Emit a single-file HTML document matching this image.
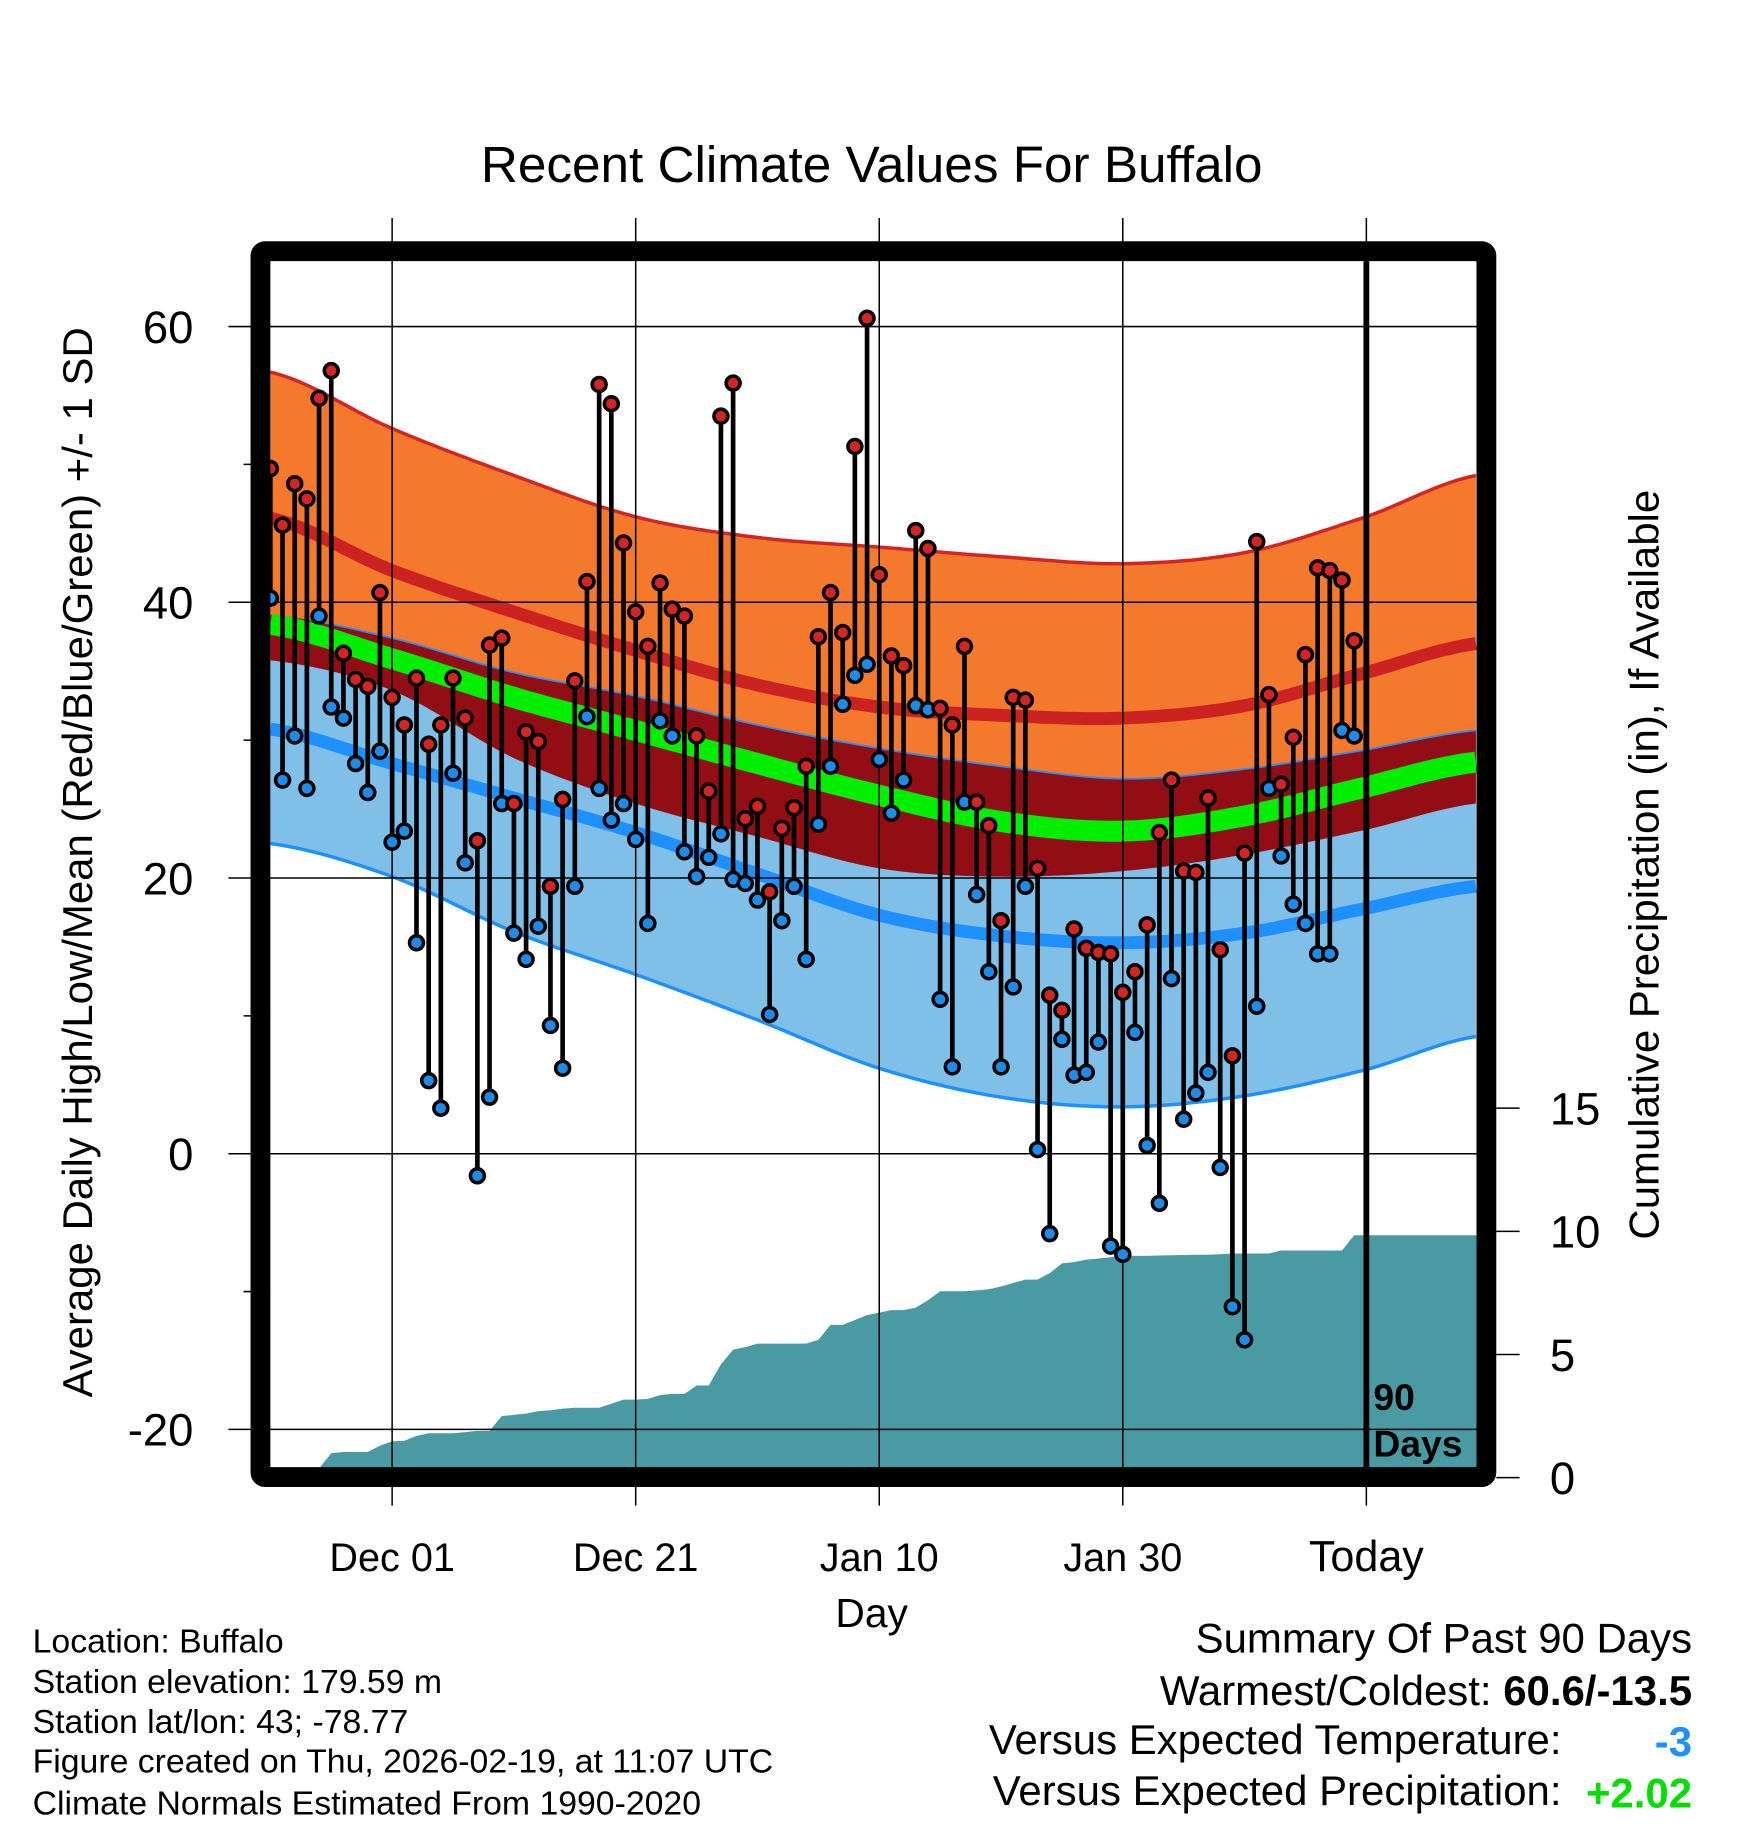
<!DOCTYPE html>
<html><head><meta charset="utf-8">
<style>
html,body{margin:0;padding:0;background:#fff;}
svg{display:block;font-family:"Liberation Sans",Arial,sans-serif;}
</style></head>
<body>
<svg id="chart" width="1748" height="1828" viewBox="0 0 1500 1568.6" xmlns="http://www.w3.org/2000/svg">
  <g id="bands"></g>
  <g id="precip"></g>
  <g id="grid"></g>
  <g id="marks"></g>
  <g id="axes"></g>
  <text x="748" y="156" font-size="44" text-anchor="middle">Recent Climate Values For Buffalo</text>
  <text transform="translate(79,740) rotate(-90)" font-size="36" text-anchor="middle">Average Daily High/Low/Mean (Red/Blue/Green) +/- 1 SD</text>
  <text transform="translate(1423,742) rotate(-90)" font-size="36" text-anchor="middle">Cumulative Precipitation (in), If Available</text>
  <text x="748" y="1396" font-size="35" text-anchor="middle">Day</text>
  <g font-size="29">
    <text x="28" y="1418">Location: Buffalo</text>
    <text x="28" y="1453">Station elevation: 179.59 m</text>
    <text x="28" y="1487">Station lat/lon: 43; -78.77</text>
    <text x="28" y="1521">Figure created on Thu, 2026-02-19, at 11:07 UTC</text>
    <text x="28" y="1557">Climate Normals Estimated From 1990-2020</text>
  </g>
  <g font-size="36">
    <text x="1452" y="1418" text-anchor="end">Summary Of Past 90 Days</text>
    <text x="1452" y="1463" text-anchor="end">Warmest/Coldest: <tspan font-weight="bold">60.6/-13.5</tspan></text>
    <text x="1340" y="1505" text-anchor="end">Versus Expected Temperature:</text>
    <text x="1452" y="1507" text-anchor="end" font-weight="bold" fill="#1e90ff">-3</text>
    <text x="1340" y="1549" text-anchor="end">Versus Expected Precipitation:</text>
    <text x="1452" y="1551" text-anchor="end" font-weight="bold" fill="#00dd00">+2.02</text>
  </g>
</svg>
<script>
const highs=[49.7,45.6,48.6,47.5,54.8,56.8,36.3,34.4,33.9,40.7,33.1,31.1,34.5,29.7,31.1,34.5,31.6,22.7,36.9,37.4,25.4,30.6,29.9,19.4,25.7,34.3,41.5,55.8,54.4,44.3,39.3,36.8,41.4,39.5,39.0,30.3,26.3,53.5,55.9,24.3,25.2,19.0,23.6,25.1,28.1,37.5,40.7,37.8,51.3,60.6,42.0,36.1,35.4,45.2,43.9,32.3,31.1,36.8,25.5,23.8,16.9,33.1,32.9,20.7,11.5,10.4,16.3,14.9,14.6,14.5,11.7,13.2,16.6,23.3,27.1,20.5,20.4,25.8,14.8,7.1,21.8,44.4,33.3,26.8,30.2,36.2,42.5,42.3,41.6,37.2];
const lows=[40.3,27.1,30.3,26.5,39.0,32.4,31.6,28.3,26.2,29.2,22.6,23.4,15.3,5.3,3.3,27.6,21.1,-1.6,4.1,25.4,16.0,14.1,16.5,9.3,6.2,19.4,31.7,26.5,24.2,25.4,22.8,16.7,31.4,30.3,21.9,20.1,21.5,23.2,19.9,19.6,18.4,10.1,16.9,19.4,14.1,23.9,28.1,32.6,34.7,35.5,28.6,24.7,27.1,32.5,32.2,11.2,6.3,25.5,18.8,13.2,6.3,12.1,19.4,0.3,-5.8,8.3,5.7,5.9,8.1,-6.7,-7.3,8.8,0.6,-3.6,12.7,2.5,4.4,5.9,-1.0,-11.1,-13.5,10.7,26.5,21.6,18.1,16.7,14.5,14.5,30.7,30.3];
const precip=[0,0,0,0,0,1.0,1.04,1.04,1.04,1.3,1.47,1.5,1.7,1.8,1.8,1.8,1.85,1.9,1.9,2.5,2.55,2.6,2.7,2.74,2.8,2.84,2.84,2.84,3.0,3.17,3.17,3.2,3.35,3.4,3.4,3.74,3.74,4.6,5.2,5.3,5.44,5.44,5.44,5.44,5.44,5.6,6.2,6.2,6.4,6.6,6.7,6.8,6.8,6.9,7.2,7.57,7.57,7.57,7.6,7.65,7.76,7.9,8.04,8.04,8.3,8.7,8.75,8.85,8.9,8.95,9.0,9.0,9.0,9.02,9.03,9.04,9.05,9.05,9.07,9.1,9.1,9.1,9.1,9.22,9.22,9.22,9.22,9.22,9.22,9.84];
const normDays=[0,10,20,30,40,50,60,70,80,90,99];
const highUpper=[56.7,52.6,49.2,46.2,44.7,44.0,43.3,42.8,43.6,46.2,49.2];
const highMean=[46.1,42.3,39.3,36.5,34.0,32.4,31.8,31.6,32.5,34.9,37.0];
const highLower=[35.8,33.6,28.7,25.4,23.0,20.7,20.1,20.5,21.7,23.5,25.4];
const meanTemp=[38.4,35.9,33.1,30.7,28.3,26.0,24.1,23.4,24.5,26.6,28.4];
const lowUpper=[39.1,37.4,34.9,33.2,31.1,29.4,28.1,27.2,27.9,29.3,30.7];
const lowMean=[30.8,28.3,25.8,23.3,20.3,17.3,15.8,15.3,16.0,17.8,19.4];
const lowLower=[22.5,20.1,16.1,13.0,9.7,6.2,4.1,3.4,4.2,6.1,8.5];
const yTicks=[60,40,20,0,-20];
const yMinor=[50,30,10,-10];
const pTicks=[0,5,10,15];
const xTickDays=[10,30,50,70,90];
const xTickLabels=["Dec 01","Dec 21","Jan 10","Jan 30","Today"];
const todayDay=90;

const NS="http://www.w3.org/2000/svg";
const L=232,R=1268,T=224,B=1260;
function xs(d){return 232+d*10.45;}
function ys(v){return 990-v*11.83;}
function yp(v){return 1268-v*21.14;}
function mk(tag,attrs,parent){const e=document.createElementNS(NS,tag);for(const k in attrs)e.setAttribute(k,attrs[k]);parent.appendChild(e);return e;}
function interp(arr,t){
  let i=0;while(i<normDays.length-2&&t>normDays[i+1])i++;
  const p0=arr[Math.max(i-1,0)],p1=arr[i],p2=arr[i+1],p3=arr[Math.min(i+2,arr.length-1)];
  const u=(t-normDays[i])/(normDays[i+1]-normDays[i]);
  return 0.5*((2*p1)+(-p0+p2)*u+(2*p0-5*p1+4*p2-p3)*u*u+(-p0+3*p1-3*p2+p3)*u*u*u);
}
const maxD=(R-L)/10.45;
function curve(arr){const pts=[];for(let t=0;t<=maxD+0.001;t+=0.5){pts.push([xs(Math.min(t,maxD)),ys(interp(arr,Math.min(t,maxD)))]);}return pts;}
function ptsStr(p){return p.map(q=>q[0].toFixed(1)+","+q[1].toFixed(1)).join(" ");}

const bands=document.getElementById('bands');
const cHU=curve(highUpper),cHM=curve(highMean),cHL=curve(highLower),cM=curve(meanTemp),cLU=curve(lowUpper),cLM=curve(lowMean),cLL=curve(lowLower);
let e;
e=mk('polygon',{points:ptsStr(cHU.concat(cHL.slice().reverse())),fill:'#f5792c'},bands);


e=mk('polygon',{points:ptsStr(cLU.concat(cLL.slice().reverse())),fill:'#80c0e8'},bands);


const ov=[];for(let i=0;i<cLU.length;i++){ov.push([cLU[i][0],Math.max(cLU[i][1],cHU[i][1])]);}
const ov2=[];for(let i=0;i<cHL.length;i++){ov2.push([cHL[i][0],Math.min(cHL[i][1],cLL[i][1])]);}
e=mk('polygon',{points:ptsStr(ov.concat(ov2.reverse())),fill:'#930e14'},bands);


e=mk('polyline',{points:ptsStr(cHU),fill:'none',stroke:'#d42525','stroke-width':3},bands);


e=mk('polyline',{points:ptsStr(cHM),fill:'none',stroke:'#cc2222','stroke-width':11},bands);


e=mk('polyline',{points:ptsStr(cLU.slice(6)),fill:'none',stroke:'#1e90ff','stroke-width':1.5},bands);


e=mk('polyline',{points:ptsStr(cM),fill:'none',stroke:'#00ee00','stroke-width':18},bands);


e=mk('polyline',{points:ptsStr(cLM),fill:'none',stroke:'#1e90ff','stroke-width':11},bands);


e=mk('polyline',{points:ptsStr(cLL),fill:'none',stroke:'#1e90ff','stroke-width':3},bands);



const pg=document.getElementById('precip');
let pp=[[L,B]];
precip.forEach((v,i)=>pp.push([xs(i),Math.min(yp(v),B)]));
pp.push([R,yp(precip[precip.length-1])]);pp.push([R,B]);
e=mk('polygon',{points:ptsStr(pp),fill:'#4a9aa4'},pg);



const g=document.getElementById('grid');
yTicks.forEach(v=>{const l=mk('line',{x1:196,x2:R,y1:ys(v),y2:ys(v),stroke:'#000','stroke-width':1.3},g);

});
yMinor.forEach(v=>{const l=mk('line',{x1:209,x2:L,y1:ys(v),y2:ys(v),stroke:'#000','stroke-width':1.3},g);

});
xTickDays.forEach((d,i)=>{if(d===todayDay)return;const l=mk('line',{x1:xs(d),x2:xs(d),y1:187,y2:1292,stroke:'#000','stroke-width':1.3},g);

});
e=mk('line',{x1:xs(todayDay),x2:xs(todayDay),y1:187,y2:1292,stroke:'#000','stroke-width':1.3},g);



const m=document.getElementById('marks');
highs.forEach((h,i)=>{
  const x=xs(i);
  const s=mk('line',{x1:x,x2:x,y1:ys(h),y2:ys(lows[i]),stroke:'#000','stroke-width':4},m);
  
  
});
highs.forEach((h,i)=>{
  const x=xs(i);
  const c1=mk('circle',{cx:x,cy:ys(lows[i]),r:6,fill:'#1e8be8',stroke:'#000','stroke-width':3},m);
  
  
  const c2=mk('circle',{cx:x,cy:ys(h),r:6,fill:'#d42525',stroke:'#000','stroke-width':3},m);
  
  
});

const a=document.getElementById('axes');
e=mk('line',{x1:xs(todayDay),x2:xs(todayDay),y1:T,y2:B,stroke:'#000','stroke-width':5},a);


e=mk('text',{x:xs(todayDay)+6,y:1210,'font-size':32,'font-weight':'bold'},a);e.textContent='90';


e=mk('text',{x:xs(todayDay)+6,y:1250,'font-size':32,'font-weight':'bold'},a);e.textContent='Days';


e=mk('rect',{x:223.5,y:215.5,width:1052,height:1052,fill:'none',stroke:'#000','stroke-width':17,rx:4},a);


yTicks.forEach(v=>{const t=mk('text',{x:166,y:ys(v)+14,'font-size':39,'text-anchor':'end'},a);t.textContent=String(v);

});
pTicks.forEach(v=>{const l=mk('line',{x1:1284,x2:1304,y1:yp(v),y2:yp(v),stroke:'#000','stroke-width':1.3},a);


const t=mk('text',{x:1330,y:yp(v)+14,'font-size':39},a);t.textContent=String(v);

});
xTickDays.forEach((d,i)=>{const t=mk('text',{x:xs(d),y:1348,'font-size':(d===todayDay?37:34),'text-anchor':'middle'},a);t.textContent=xTickLabels[i];

});
</script>
</body></html>
